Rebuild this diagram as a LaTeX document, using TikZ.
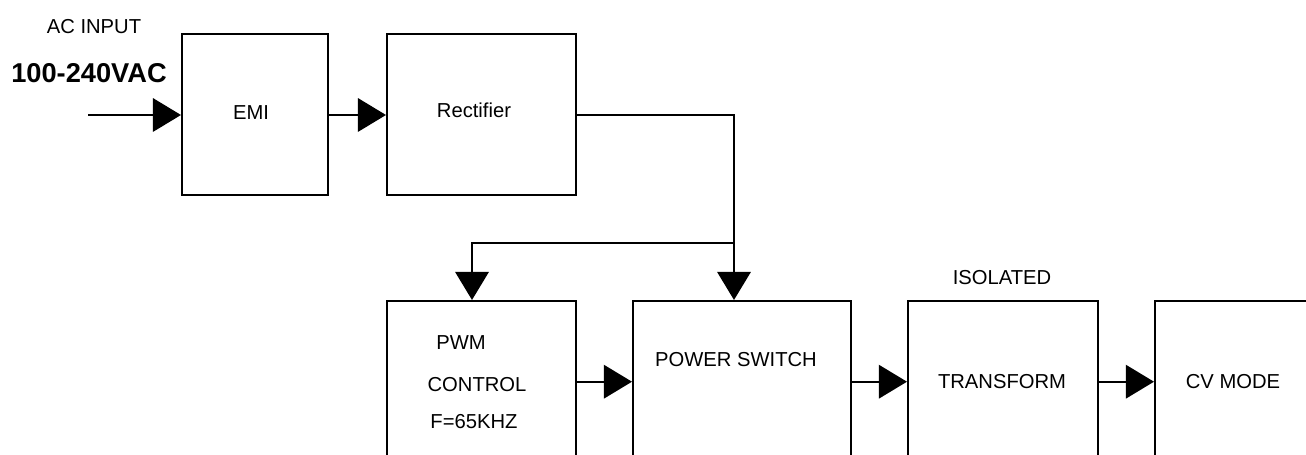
\documentclass[tikz,border=0pt]{standalone}
\usepackage{fontspec}
\setmainfont{Liberation Sans}
\usetikzlibrary{arrows.meta}

\begin{document}
\begin{tikzpicture}[x=0.02cm, y=-0.02cm,
    blk/.style={draw, line width=1.4pt, anchor=north west, minimum height=3.22cm},
    arr/.style={line width=1.3pt, -{Triangle[length=16pt, width=19pt]}},
    lbl/.style={font=\fontsize{11.5}{13}\selectfont, inner sep=0pt}]
  \useasboundingbox (0,0) rectangle (1306,455);
  \clip (0,0) rectangle (1306,455);
  \node[blk, minimum width=2.92cm] (emi) at (181,33) {};
  \node[blk, minimum width=3.78cm] (rect) at (386,33) {};
  \node[blk, minimum width=3.78cm] (pwm) at (386,300) {};
  \node[blk, minimum width=4.36cm] (ps) at (632,300) {};
  \node[blk, minimum width=3.8cm] (tr) at (907,300) {};
  \node[blk, minimum width=4cm] (cv) at (1154,300) {};
  \node[lbl] (acin) at (94,27) {AC INPUT};
  \node[lbl, font=\fontsize{15.5}{17}\selectfont\bfseries] (vac) at (89,73) {100-240VAC};
  \node[lbl] (emit) at (251,113) {EMI};
  \node[lbl] (rectt) at (474,110) {Rectifier};
  \node[lbl] (pwmt) at (461,343) {PWM};
  \node[lbl] (ctlt) at (477,385) {CONTROL};
  \node[lbl] (frqt) at (474,422) {F=65KHZ};
  \node[lbl] (pst) at (736,360) {POWER SWITCH};
  \node[lbl] (isot) at (1002,278) {ISOLATED};
  \node[lbl] (trt) at (1002,382) {TRANSFORM};
  \node[lbl] (cvt) at (1233,382) {CV MODE};
  \coordinate (in) at (88,115);
  \coordinate (jn) at (734,243);
  \coordinate (pwmin) at (472,243);
  \draw[arr] (in) -- (in -| emi.west);
  \draw[arr] (emi.east |- in) -- (rect.west |- in);
  \draw[line width=1.3pt] (rect.east |- in) -| (jn);
  \draw[arr] (jn) -- (jn |- ps.north);
  \draw[arr] (jn) -- (pwmin) -- (pwmin |- pwm.north);
  \draw[arr] (pwm.east) -- (ps.west);
  \draw[arr] (ps.east) -- (tr.west);
  \draw[arr] (tr.east) -- (cv.west);
\end{tikzpicture}
\end{document}
